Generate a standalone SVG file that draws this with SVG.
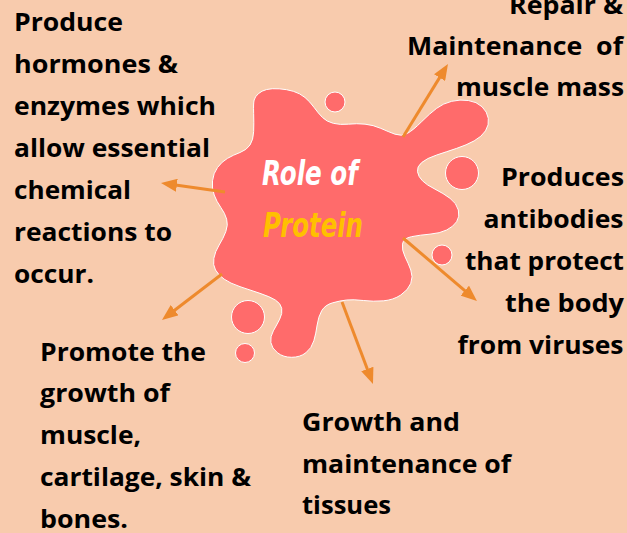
<svg xmlns="http://www.w3.org/2000/svg" width="627" height="533" viewBox="0 0 627 533">
<style>
.t{font-family:"Open Sans","Liberation Sans",sans-serif;font-weight:700;font-size:25px;fill:#000}
.blob{fill:#FF6B6B;stroke:#fff;stroke-width:1}
.arr{stroke:#EE8A2D;stroke-width:3;fill:none;marker-end:url(#ah)}
.title{font-family:"DejaVu Sans","Liberation Sans",sans-serif;font-weight:700;font-style:italic;font-size:34px}
</style>
<defs>
<marker id="ah" markerUnits="userSpaceOnUse" viewBox="0 0 16 13" refX="5" refY="6.5" markerWidth="16" markerHeight="13" orient="auto">
<path d="M0,0 L16,6.5 L0,13 Z" fill="#EE8A2D"/>
</marker>
</defs>
<rect width="627" height="533" fill="#F8CBAD"/>
<g id="center">
<path class="blob" d="M253.65,113.3 Q253.3,103.3 254.15,100 Q255,96.7 258.35,93.7 Q261.7,90.7 266.7,89.5 Q271.7,88.3 279.2,88.8 Q286.7,89.3 293.35,91.3 Q300,93.3 305,97.5 Q310,101.7 314.15,107.5 Q318.3,113.3 322.5,117.5 Q326.7,121.7 333.35,123.35 Q340,125 348.35,124.15 Q356.7,123.3 365,124.15 Q373.3,125 380.8,128.35 Q388.3,131.7 395,134.2 Q401.7,136.7 407.5,133.35 Q413.3,130 421.65,121.65 Q430,113.3 436.65,108.3 Q443.3,103.3 451.65,101.3 Q460,99.3 468.35,100.5 Q476.7,101.7 482,106.7 Q487.3,111.7 488.3,118.35 Q489.3,125 485.5,130.85 Q481.7,136.7 474.2,140.85 Q466.7,145 456.7,148.35 Q446.7,151.7 436.7,155 Q426.7,158.3 421.7,162.5 Q416.7,166.7 417.5,171.7 Q418.3,176.7 422.5,180.85 Q426.7,185 435,189.15 Q443.3,193.3 450,198.3 Q456.7,203.3 458.35,210 Q460,216.7 456.65,221.7 Q453.3,226.7 446.65,230 Q440,233.3 430,234.15 Q420,235 411.65,236.65 Q403.3,238.3 402.5,244.15 Q401.7,250 405,256.65 Q408.3,263.3 410.8,270 Q413.3,276.7 410.8,283.35 Q408.3,290 400.8,295 Q393.3,300 383.3,300.85 Q373.3,301.7 363.3,300.5 Q353.3,299.3 346.65,300 Q340,300.7 332.5,302.85 Q325,305 321.65,310.85 Q318.3,316.7 317.15,325 Q316,333.3 313.85,340.8 Q311.7,348.3 305.85,352.8 Q300,357.3 291.65,357.3 Q283.3,357.3 277.5,352.8 Q271.7,348.3 270.85,342.5 Q270,336.7 273.35,330.85 Q276.7,325 279.7,319.15 Q282.7,313.3 281.7,308.3 Q280.7,303.3 275.35,300 Q270,296.7 260,293.35 Q250,290 240,286.65 Q230,283.3 224.15,279.15 Q218.3,275 215.5,270 Q212.7,265 213.850,258.35 Q215,251.7 219.15,245 Q223.3,238.3 225.8,231.65 Q228.3,225 226.65,219.15 Q225,213.3 220.85,207.5 Q216.7,201.7 214.2,195 Q211.7,188.3 212.5,180.8 Q213.3,173.3 217.5,167.5 Q221.7,161.7 227.5,158.35 Q233.3,155 240,152.5 Q246.7,150 250,145 Q253.3,140 253.65,131.65 Q254,123.3 253.65,113.3 Z"/>
<circle class="blob" cx="335" cy="102" r="10"/>
<circle class="blob" cx="462" cy="173" r="16.5"/>
<circle class="blob" cx="442" cy="255" r="10"/>
<circle class="blob" cx="248" cy="317" r="16.5"/>
<circle class="blob" cx="245" cy="353" r="9.5"/>
<text class="title" x="262" y="185" fill="#fff" textLength="96" lengthAdjust="spacingAndGlyphs">Role of</text>
<text class="title" x="263" y="237" fill="#FFC000" textLength="100" lengthAdjust="spacingAndGlyphs">Protein</text>
</g>
<g id="connectors">
<line class="arr" x1="403" y1="137" x2="442.2" y2="73.4"/>
<line class="arr" x1="225" y1="192" x2="171.9" y2="184.5"/>
<line class="arr" x1="222" y1="274" x2="170.7" y2="313.3"/>
<line class="arr" x1="342" y1="302" x2="369.1" y2="373.7"/>
<line class="arr" x1="403" y1="238" x2="468.6" y2="293.9"/>
</g>
<g id="n-hormones">
<text class="t" x="14" y="30.5" textLength="109" lengthAdjust="spacingAndGlyphs">Produce</text>
<text class="t" x="14" y="72.5" textLength="164" lengthAdjust="spacingAndGlyphs">hormones &amp;</text>
<text class="t" x="14" y="114.5" textLength="202" lengthAdjust="spacingAndGlyphs">enzymes which</text>
<text class="t" x="14" y="156.5" textLength="196" lengthAdjust="spacingAndGlyphs">allow essential</text>
<text class="t" x="14" y="198.5" textLength="117" lengthAdjust="spacingAndGlyphs">chemical</text>
<text class="t" x="14" y="240.7" textLength="158" lengthAdjust="spacingAndGlyphs">reactions to</text>
<text class="t" x="14" y="283" textLength="80" lengthAdjust="spacingAndGlyphs">occur.</text>
</g>
<g id="n-repair">
<text class="t" x="509" y="14" textLength="114" lengthAdjust="spacingAndGlyphs">Repair &amp;</text>
<text class="t" x="407" y="55" textLength="216" lengthAdjust="spacingAndGlyphs" xml:space="preserve" style="white-space:pre">Maintenance  of</text>
<text class="t" x="456" y="96" textLength="168" lengthAdjust="spacingAndGlyphs">muscle mass</text>
</g>
<g id="n-antibodies">
<text class="t" x="501" y="186" textLength="123" lengthAdjust="spacingAndGlyphs">Produces</text>
<text class="t" x="483.5" y="228" textLength="140" lengthAdjust="spacingAndGlyphs">antibodies</text>
<text class="t" x="465" y="270" textLength="159" lengthAdjust="spacingAndGlyphs">that protect</text>
<text class="t" x="505" y="312" textLength="119" lengthAdjust="spacingAndGlyphs">the body</text>
<text class="t" x="457.5" y="354" textLength="166" lengthAdjust="spacingAndGlyphs">from viruses</text>
</g>
<g id="n-growth-muscle">
<text class="t" x="40" y="361" textLength="166" lengthAdjust="spacingAndGlyphs">Promote the</text>
<text class="t" x="40" y="402" textLength="130" lengthAdjust="spacingAndGlyphs">growth of</text>
<text class="t" x="40" y="444" textLength="101" lengthAdjust="spacingAndGlyphs">muscle,</text>
<text class="t" x="40" y="486" textLength="211" lengthAdjust="spacingAndGlyphs">cartilage, skin &amp;</text>
<text class="t" x="40" y="528" textLength="88" lengthAdjust="spacingAndGlyphs">bones.</text>
</g>
<g id="n-tissues">
<text class="t" x="302" y="431" textLength="158" lengthAdjust="spacingAndGlyphs">Growth and</text>
<text class="t" x="302" y="473" textLength="209" lengthAdjust="spacingAndGlyphs">maintenance of</text>
<text class="t" x="302" y="514" textLength="89" lengthAdjust="spacingAndGlyphs">tissues</text>
</g>
</svg>
